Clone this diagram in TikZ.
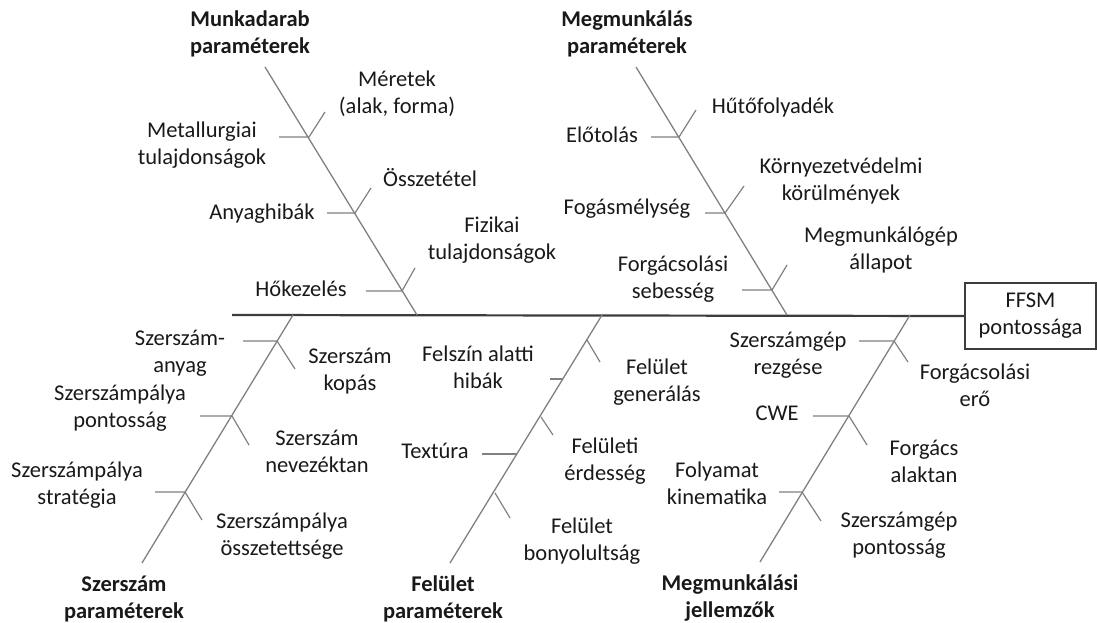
\documentclass[tikz,border=0pt]{standalone}
\usepackage{fontspec}
\setmainfont{Carlito}
\definecolor{txt}{RGB}{25,25,25}
\definecolor{bonegray}{RGB}{128,128,128}
\definecolor{spinegray}{RGB}{60,60,60}
\begin{document}
\begin{tikzpicture}[x=1pt,y=-1pt,
  lbl/.style={align=center, inner sep=0pt, text=txt, font=\fontsize{22.5}{27}\selectfont},
  head/.style={lbl, font=\fontsize{22.5}{27}\selectfont\bfseries},
  bone/.style={draw=bonegray, line width=1.3pt},
  twig/.style={draw=bonegray, line width=1.2pt},
  spine/.style={draw=spinegray, line width=2.2pt},
  effect/.style={draw=spinegray, line width=1.4pt, fill=white, minimum width=131pt, minimum height=66pt, inner sep=0pt, align=center, text=txt, font=\fontsize{22.5}{27}\selectfont}]
\useasboundingbox (0,0) rectangle (1097,623);

% effect box and spine
\node[effect] (ffsm) at (1030.5,316) {FFSM\\pontossága};
\coordinate (sp0) at (232,315);
\draw[spine] (sp0) -- (ffsm.west);

% ---------- Munkadarab parameterek (upper left) ----------
\coordinate (mdT) at (265,67);
\coordinate (mdB) at (417,315);
\draw[bone] (mdT) -- (mdB);
\coordinate (mdJ1) at (309,137); \coordinate (mdH1) at (279,137); \coordinate (mdK1) at (325,112);
\coordinate (mdJ2) at (355,213); \coordinate (mdH2) at (327,213); \coordinate (mdK2) at (371,188);
\coordinate (mdJ3) at (402,291); \coordinate (mdH3) at (366,291); \coordinate (mdK3) at (415,268);
\foreach \i in {1,2,3} {\draw[twig] (mdH\i) -- (mdJ\i) -- (mdK\i);}
\node[head] (mdHead) at (250,33.5) {Munkadarab\\paraméterek};
\node[lbl] (mdMer) at (397,93.5) {Méretek\\(alak, forma)};
\node[lbl] (mdMet) at (202,145) {Metallurgiai\\tulajdonságok};
\node[lbl] (mdOssz) at (430,178) {Összetétel};
\node[lbl] (mdAny) at (262,214) {Anyaghibák};
\node[lbl] (mdFiz) at (492,240.5) {Fizikai\\tulajdonságok};
\node[lbl] (mdHok) at (301,289) {Hőkezelés};

% ---------- Megmunkalas parameterek (upper right) ----------
\coordinate (mmT) at (636,67);
\coordinate (mmB) at (787,315);
\draw[bone] (mmT) -- (mmB);
\coordinate (mmJ1) at (679,137); \coordinate (mmH1) at (651,137); \coordinate (mmK1) at (696,110);
\coordinate (mmJ2) at (725,213); \coordinate (mmH2) at (705,213); \coordinate (mmK2) at (744,186);
\coordinate (mmJ3) at (772,290); \coordinate (mmH3) at (742,290); \coordinate (mmK3) at (787,265);
\foreach \i in {1,2,3} {\draw[twig] (mmH\i) -- (mmJ\i) -- (mmK\i);}
\node[head] (mmHead) at (627,33.5) {Megmunkálás\\paraméterek};
\node[lbl] (mmHut) at (773,108) {Hűtőfolyadék};
\node[lbl] (mmElo) at (602,135) {Előtolás};
\node[lbl] (mmKor) at (841,181) {Környezetvédelmi\\körülmények};
\node[lbl] (mmFog) at (627,209) {Fogásmélység};
\node[lbl] (mmGep) at (881,249.5) {Megmunkálógép\\állapot};
\node[lbl] (mmSeb) at (673,279) {Forgácsolási\\sebesség};

% ---------- Szerszam parameterek (lower left) ----------
\coordinate (szT) at (293,315);
\coordinate (szB) at (142,563);
\draw[bone] (szT) -- (szB);
\coordinate (szJ1) at (277,341); \coordinate (szH1) at (243,341); \coordinate (szK1) at (295,369);
\coordinate (szJ2) at (232,416); \coordinate (szH2) at (200,416); \coordinate (szK2) at (249,445);
\coordinate (szJ3) at (185,492); \coordinate (szH3) at (155,492); \coordinate (szK3) at (202,520);
\foreach \i in {1,2,3} {\draw[twig] (szH\i) -- (szJ\i) -- (szK\i);}
\node[head] (szHead) at (124,598.5) {Szerszám\\paraméterek};
\node[lbl] (szAny) at (180,353.5) {Szerszám-\\anyag};
\node[lbl] (szKop) at (350,371.5) {Szerszám\\kopás};
\node[lbl] (szPon) at (120,408.5) {Szerszámpálya\\pontosság};
\node[lbl] (szNev) at (317,451.5) {Szerszám\\nevezéktan};
\node[lbl] (szStr) at (77,485.5) {Szerszámpálya\\stratégia};
\node[lbl] (szOssz) at (282,536.5) {Szerszámpálya\\összetettsége};

% ---------- Felulet parameterek (lower middle) ----------
\coordinate (feT) at (602,315);
\coordinate (feB) at (450,563);
\draw[bone] (feT) -- (feB);
\coordinate (feJ1) at (587,340); \coordinate (feK1) at (600,362);
\coordinate (feJ2) at (541,417); \coordinate (feK2) at (553,435);
\coordinate (feJ3) at (495,493); \coordinate (feK3) at (510,518);
\foreach \i in {1,2,3} {\draw[twig] (feJ\i) -- (feK\i);}
\coordinate (feJa) at (563,379); \coordinate (feHa) at (550,379);
\coordinate (feJb) at (517,454); \coordinate (feHb) at (482,454);
\draw[twig] (feHa) -- (feJa);
\draw[twig] (feHb) -- (feJb);
\node[head] (feHead) at (443,598.5) {Felület\\paraméterek};
\node[lbl] (feFel) at (478,367.5) {Felszín alatti\\hibák};
\node[lbl] (feGen) at (657,382.5) {Felület\\generálás};
\node[lbl] (feTex) at (435,451) {Textúra};
\node[lbl] (feErd) at (605,461.5) {Felületi\\érdesség};
\node[lbl] (feBon) at (582,541.5) {Felület\\bonyolultság};

% ---------- Megmunkalasi jellemzok (lower right) ----------
\coordinate (mjT) at (910,315);
\coordinate (mjB) at (760,562);
\draw[bone] (mjT) -- (mjB);
\coordinate (mjJ1) at (894,341); \coordinate (mjH1) at (859,341); \coordinate (mjK1) at (908,362);
\coordinate (mjJ2) at (849,416); \coordinate (mjH2) at (813,416); \coordinate (mjK2) at (867,445);
\coordinate (mjJ3) at (802,492); \coordinate (mjH3) at (779,492); \coordinate (mjK3) at (821,521);
\foreach \i in {1,2,3} {\draw[twig] (mjH\i) -- (mjJ\i) -- (mjK\i);}
\node[head] (mjHead) at (730,598.5) {Megmunkálási\\jellemzők};
\node[lbl] (mjRez) at (788,355) {Szerszámgép\\rezgése};
\node[lbl] (mjEro) at (975,385) {Forgácsolási\\erő};
\node[lbl] (mjCwe) at (777,413) {CWE};
\node[lbl] (mjAla) at (924,461.5) {Forgács\\alaktan};
\node[lbl] (mjKin) at (717,483.5) {Folyamat\\kinematika};
\node[lbl] (mjPon) at (899,535) {Szerszámgép\\pontosság};
\end{tikzpicture}
\end{document}
